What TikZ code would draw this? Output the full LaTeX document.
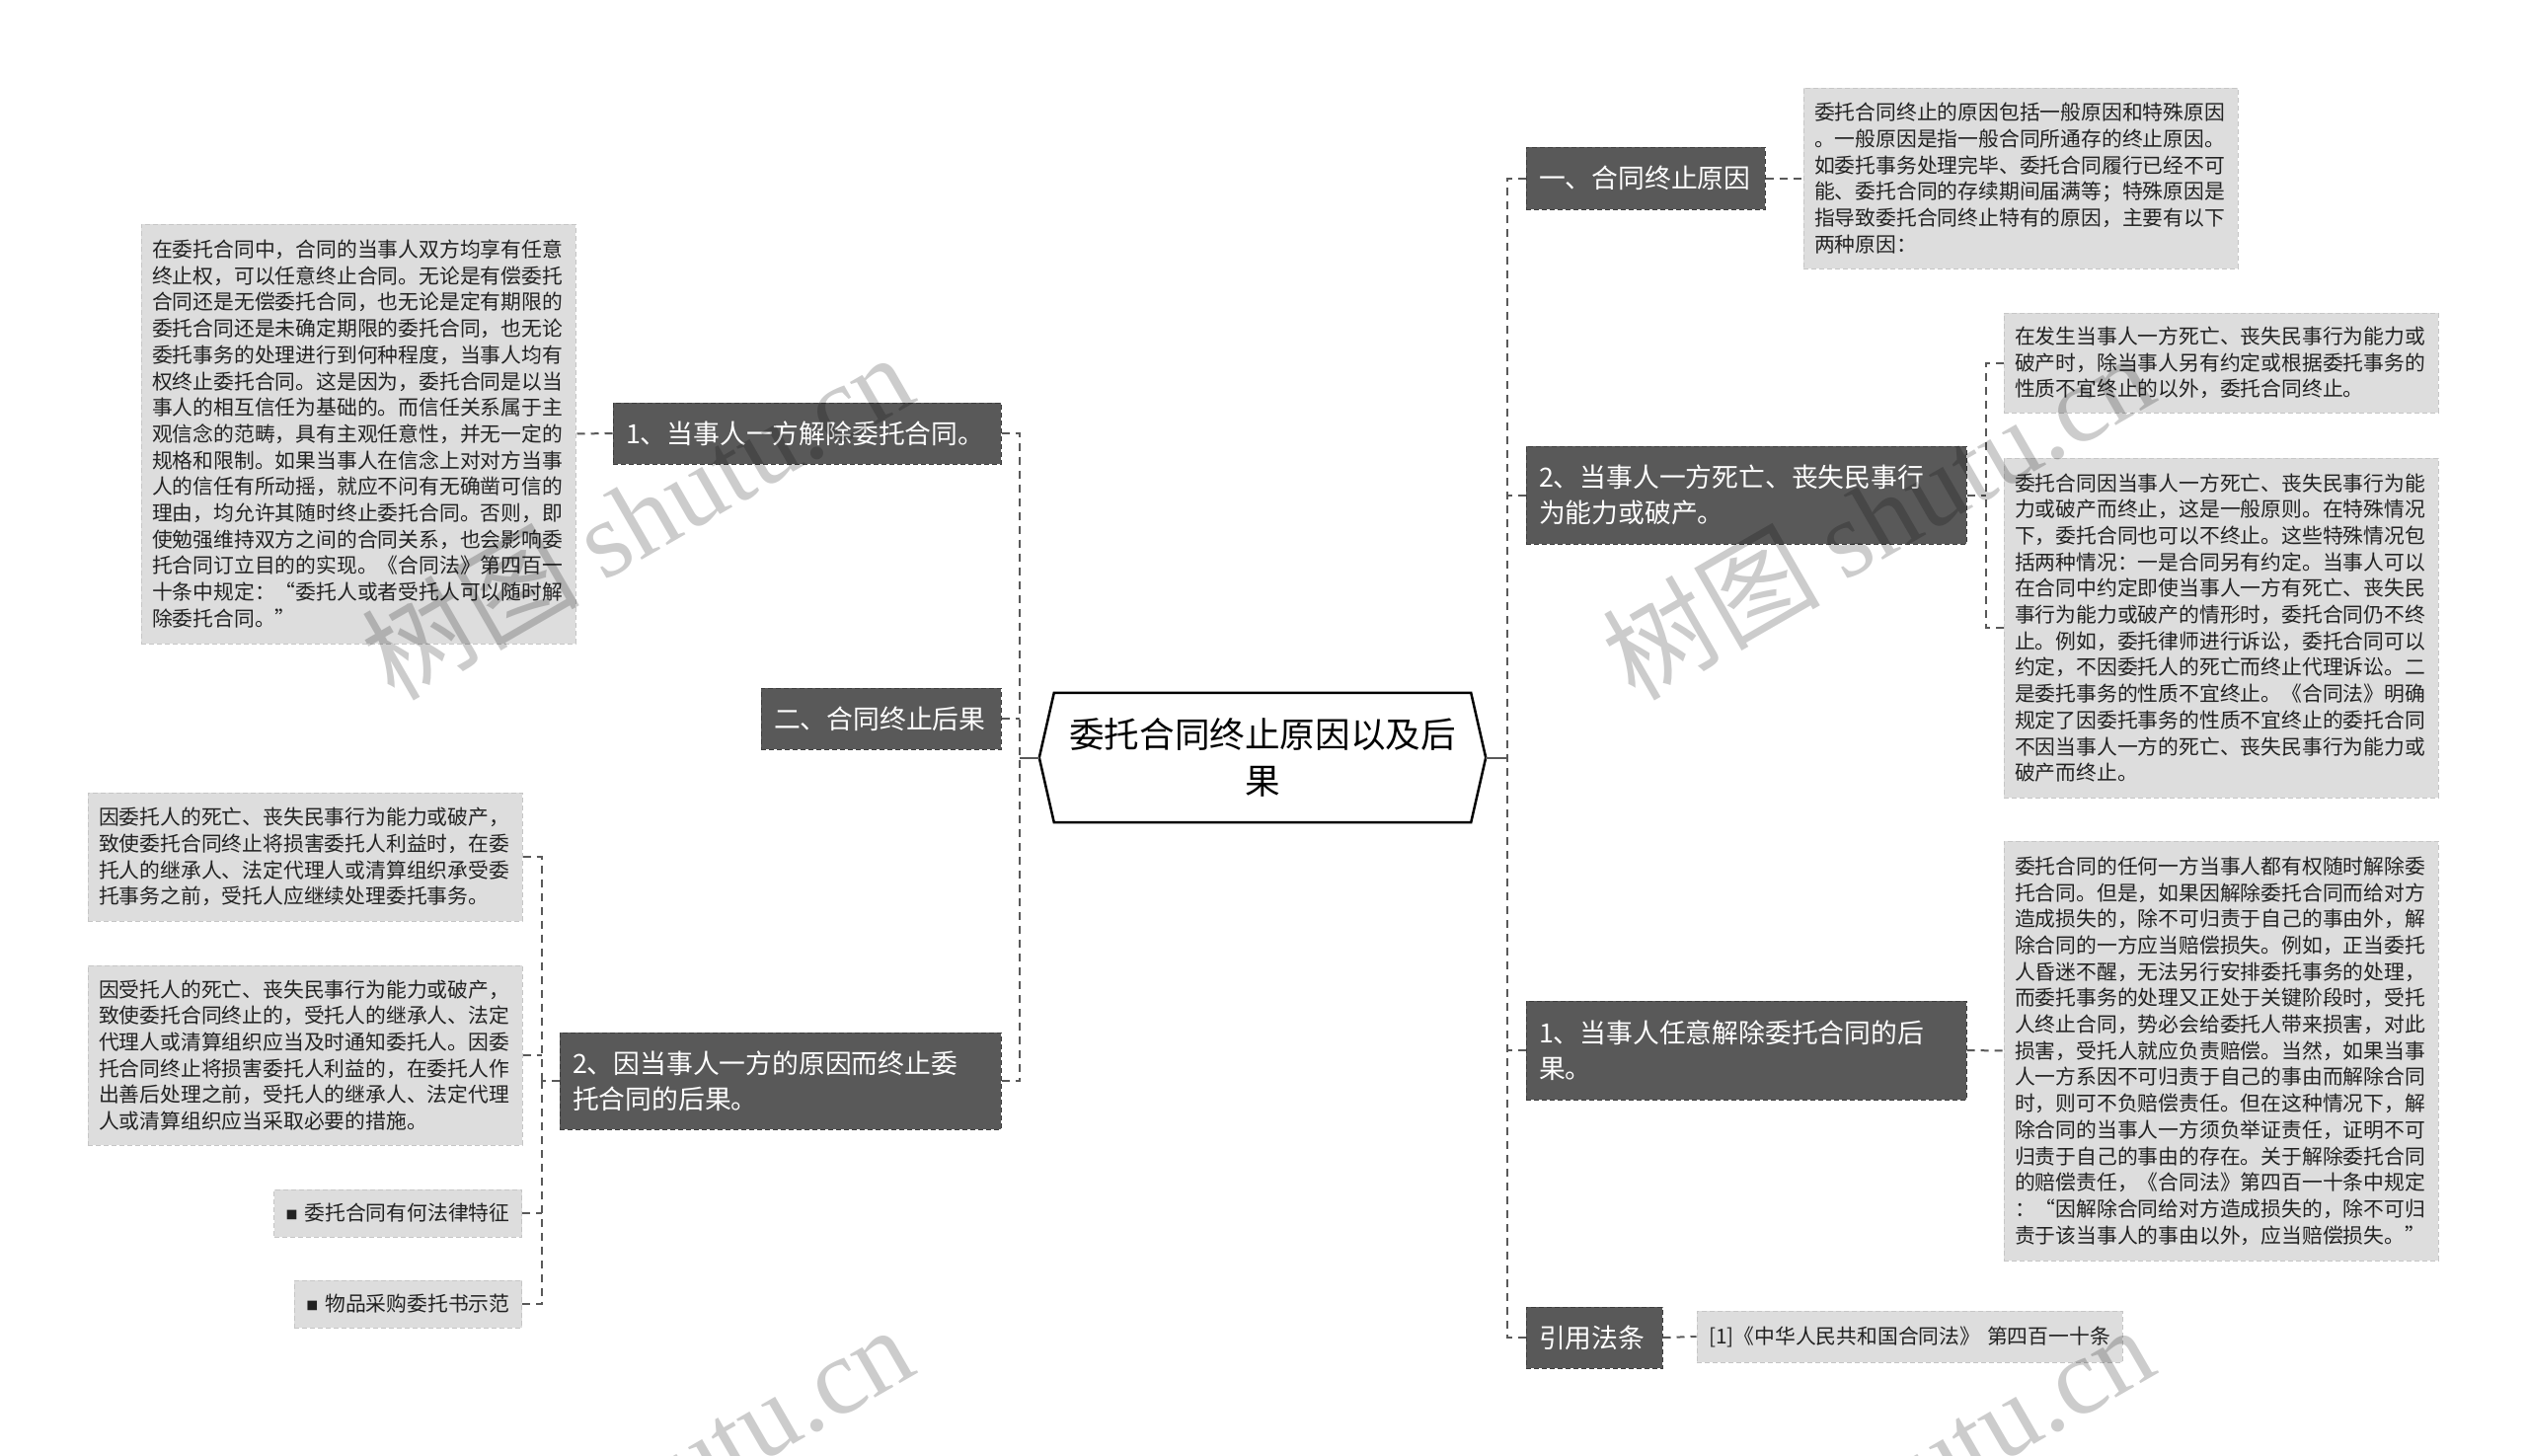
\documentclass[tikz,border=0pt]{standalone}
\usepackage{fontspec}
\newfontfamily\cjk{Noto Sans CJK SC}
\newfontfamily\wmlatin{Liberation Serif}
\usetikzlibrary{calc}
\definecolor{darkfill}{HTML}{595959}
\definecolor{darkedge}{HTML}{3D3D3D}
\definecolor{lightfill}{HTML}{DDDDDD}
\definecolor{lightedge}{HTML}{C6C6C6}
\definecolor{conncol}{HTML}{595959}
\definecolor{txt}{HTML}{222222}
\newcommand{\bulletsq}{\raisebox{1.5pt}{\fontsize{12}{12}\selectfont ■}\hspace{7pt}}
\begin{document}
\begin{tikzpicture}[x=1pt,y=-1pt,
  dnode/.style={fill=darkfill, draw=darkedge, dash pattern=on 5pt off 3pt, line width=1pt,
    text=white, font=\cjk\fontsize{26.8}{35.5}\selectfont, inner xsep=13pt, inner ysep=0pt, align=left},
  lnode/.style={fill=lightfill, draw=lightedge, dash pattern=on 5pt off 3pt, line width=1pt,
    text=txt, font=\cjk\fontsize{20.8}{26.7}\selectfont, inner xsep=11pt, inner ysep=0pt,
    text width=418pt, align=left},
  bnode/.style={fill=lightfill, draw=lightedge, dash pattern=on 5pt off 3pt, line width=1pt,
    text=txt, font=\cjk\fontsize{20.8}{26.7}\selectfont, inner xsep=12pt, inner ysep=0pt,
    minimum height=48pt, anchor=east},
  conn/.style={draw=conncol, line width=2pt, dash pattern=on 8pt off 6pt},
  rootline/.style={draw=conncol, line width=2pt},
  wm/.style={rotate=30, text=black, text opacity=0.2, font=\cjk\fontsize{110}{110}\selectfont}
]
\fill[white] (0,0) rectangle (2560,1475);
\useasboundingbox (0,0) rectangle (2560,1475);

% ---------- root ----------
\node[inner sep=0pt, minimum width=422pt, minimum height=131pt, align=center, text=black,
  font=\cjk\fontsize{35.6}{47}\selectfont] (root) at (1279,767.5) {委托合同终止原因以及后\\果};
\coordinate (rootW) at ([xshift=-15pt]root.west);
\coordinate (rootE) at ([xshift=15pt]root.east);
\draw[line width=2.5pt, line join=miter] (root.north west) -- (root.north east) -- (rootE)
  -- (root.south east) -- (root.south west) -- (rootW) -- cycle;

% ---------- left side ----------
\node[lnode, minimum height=425pt] (L1) at (363,439.5) {在委托合同中，合同的当事人双方均享有任意\\终止权，可以任意终止合同。无论是有偿委托\\合同还是无偿委托合同，也无论是定有期限的\\委托合同还是未确定期限的委托合同，也无论\\委托事务的处理进行到何种程度，当事人均有\\权终止委托合同。这是因为，委托合同是以当\\事人的相互信任为基础的。而信任关系属于主\\观信念的范畴，具有主观任意性，并无一定的\\规格和限制。如果当事人在信念上对对方当事\\人的信任有所动摇，就应不问有无确凿可信的\\理由，均允许其随时终止委托合同。否则，即\\使勉强维持双方之间的合同关系，也会影响委\\托合同订立目的的实现。《合同法》第四百一\\十条中规定：“委托人或者受托人可以随时解\\除委托合同。”};
\node[dnode, text width=367pt, minimum height=62pt] (N1) at (817.5,439) {1、当事人一方解除委托合同。};
\node[dnode, text width=217pt, minimum height=62pt] (T2) at (892.5,728) {二、合同终止后果};
\node[dnode, text width=421pt, minimum height=98pt] (N2) at (790.5,1095) {2、因当事人一方的原因而终止委\\托合同的后果。};
\node[lnode, minimum height=130pt] (L2a) at (309,868) {因委托人的死亡、丧失民事行为能力或破产，\\致使委托合同终止将损害委托人利益时，在委\\托人的继承人、法定代理人或清算组织承受委\\托事务之前，受托人应继续处理委托事务。};
\node[lnode, minimum height=182pt] (L2b) at (309,1069) {因受托人的死亡、丧失民事行为能力或破产，\\致使委托合同终止的，受托人的继承人、法定\\代理人或清算组织应当及时通知委托人。因委\\托合同终止将损害委托人利益的，在委托人作\\出善后处理之前，受托人的继承人、法定代理\\人或清算组织应当采取必要的措施。};
\node[bnode] (B1) at (529,1229) {\bulletsq 委托合同有何法律特征};
\node[bnode] (B2) at (529,1321) {\bulletsq 物品采购委托书示范};

% ---------- right side ----------
\node[dnode, text width=216pt, minimum height=63pt] (T1) at (1667,180.5) {一、合同终止原因};
\node[lnode, minimum height=183pt] (R1) at (2047,180.5) {委托合同终止的原因包括一般原因和特殊原因\\。一般原因是指一般合同所通存的终止原因。\\如委托事务处理完毕、委托合同履行已经不可\\能、委托合同的存续期间届满等；特殊原因是\\指导致委托合同终止特有的原因，主要有以下\\两种原因：};
\node[dnode, text width=420pt, minimum height=99pt] (C2) at (1769,501.5) {2、当事人一方死亡、丧失民事行\\为能力或破产。};
\node[lnode, minimum height=101pt] (R2a) at (2250,367.5) {在发生当事人一方死亡、丧失民事行为能力或\\破产时，除当事人另有约定或根据委托事务的\\性质不宜终止的以外，委托合同终止。};
\node[lnode, minimum height=344pt] (R2b) at (2250,636) {委托合同因当事人一方死亡、丧失民事行为能\\力或破产而终止，这是一般原则。在特殊情况\\下，委托合同也可以不终止。这些特殊情况包\\括两种情况：一是合同另有约定。当事人可以\\在合同中约定即使当事人一方有死亡、丧失民\\事行为能力或破产的情形时，委托合同仍不终\\止。例如，委托律师进行诉讼，委托合同可以\\约定，不因委托人的死亡而终止代理诉讼。二\\是委托事务的性质不宜终止。《合同法》明确\\规定了因委托事务的性质不宜终止的委托合同\\不因当事人一方的死亡、丧失民事行为能力或\\破产而终止。};
\node[dnode, text width=420pt, minimum height=100pt] (C1) at (1769,1064) {1、当事人任意解除委托合同的后\\果。};
\node[lnode, minimum height=425pt] (R3) at (2250,1064.5) {委托合同的任何一方当事人都有权随时解除委\\托合同。但是，如果因解除委托合同而给对方\\造成损失的，除不可归责于自己的事由外，解\\除合同的一方应当赔偿损失。例如，正当委托\\人昏迷不醒，无法另行安排委托事务的处理，\\而委托事务的处理又正处于关键阶段时，受托\\人终止合同，势必会给委托人带来损害，对此\\损害，受托人就应负责赔偿。当然，如果当事\\人一方系因不可归责于自己的事由而解除合同\\时，则可不负赔偿责任。但在这种情况下，解\\除合同的当事人一方须负举证责任，证明不可\\归责于自己的事由的存在。关于解除委托合同\\的赔偿责任，《合同法》第四百一十条中规定\\：“因解除合同给对方造成损失的，除不可归\\责于该当事人的事由以外，应当赔偿损失。”};
\node[dnode, text width=112pt, minimum height=62pt] (C3) at (1615,1355) {引用法条};
\node[lnode, text width=407pt, inner xsep=12pt, minimum height=52pt] (R4) at (1934.5,1354) {[1]《中华人民共和国合同法》 第四百一十条};

% ---------- connectors ----------
\coordinate (LJ) at (1033,767.5);
\coordinate (RJ) at (1527,767.5);
\coordinate (R2J) at (2012,501.5);
\coordinate (N2J) at (549,1095);
\draw[rootline] (rootW) -- (LJ);
\draw[rootline] (rootE) -- (RJ);
\draw[conn] (N1.east) -| (LJ);
\draw[conn] (N2.east) -| (LJ);
\draw[conn] (T2.east) -- (T2.east -| LJ);
\draw[conn] (T1.west) -| (RJ);
\draw[conn] (C3.west) -| (RJ);
\draw[conn] (C2.west) -- (C2.west -| RJ);
\draw[conn] (C1.west) -- (C1.west -| RJ);
\draw[conn] (N1.west) -- (L1.east);
\draw[conn] (T1.east) -- (R1.west);
\draw[conn] (C2.east) -- (R2J);
\draw[conn] (R2a.west) -| (R2J);
\draw[conn] (R2b.west) -| (R2J);
\draw[conn] (C1.east) -- (R3.west);
\draw[conn] (C3.east) -- (R4.west);
\draw[conn] (N2.west) -- (N2J);
\draw[conn] (L2a.east) -| (N2J);
\draw[conn] (B2.east) -| (N2J);
\draw[conn] (L2b.east) -- (L2b.east -| N2J);
\draw[conn] (B1.east) -- (B1.east -| N2J);

% ---------- watermarks ----------
\begin{scope}
\clip (0,0) rectangle (2560,1475);
\node[wm] (wm1) at (645,522) {树图 {\wmlatin shutu.cn}};
\node[wm] (wm2) at (1902,522) {树图 {\wmlatin shutu.cn}};
\node[wm] (wm3) at (645,1507) {树图 {\wmlatin shutu.cn}};
\node[wm] (wm4) at (1902,1507) {树图 {\wmlatin shutu.cn}};
\end{scope}
\end{tikzpicture}
\end{document}
